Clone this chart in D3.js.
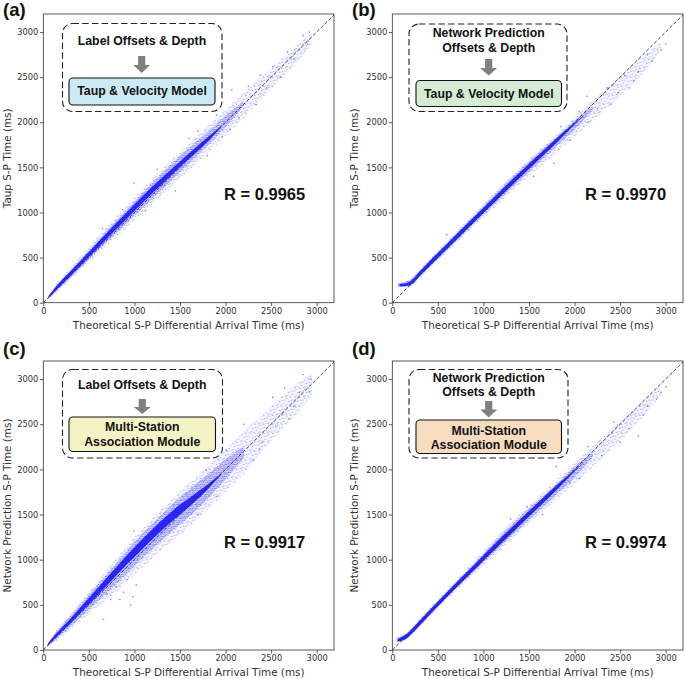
<!DOCTYPE html>
<html>
<head>
<meta charset="utf-8">
<script src="https://cdn.jsdelivr.net/npm/d3@7"></script>
<style>
  body { margin: 0; background: #fff; }
  text { font-family: "DejaVu Sans", sans-serif; }
  .bold { font-family: "Liberation Sans", Arial, sans-serif; font-weight: bold; }
</style>
</head>
<body>
<div id="chart"></div>
<script>
// ---- values (ms) ----
var ticks = [0, 500, 1000, 1500, 2000, 2500, 3000];
var rValues = ["R = 0.9965", "R = 0.9970", "R = 0.9917", "R = 0.9974"];
var panelTags = ["(a)", "(b)", "(c)", "(d)"];
var yTitles = ["Taup S-P Time (ms)", "Taup S-P Time (ms)",
  "Network Prediction S-P Time (ms)", "Network Prediction S-P Time (ms)"];
var xTitle = "Theoretical S-P Differential Arrival Time (ms)";
var inputLines = [["Label Offsets & Depth"], ["Network Prediction", "Offsets & Depth"],
  ["Label Offsets & Depth"], ["Network Prediction", "Offsets & Depth"]];
var moduleLines = [["Taup & Velocity Model"], ["Taup & Velocity Model"],
  ["Multi-Station", "Association Module"], ["Multi-Station", "Association Module"]];

// panel (a): sparse envelope, medium band and dense core of the cloud
var aX     = [50, 150, 300, 450, 600, 750, 900, 1050, 1200, 1350, 1500, 1650, 1800, 2000, 2200, 2400, 2600, 2800, 2950];
var aLo    = [30, 110, 250, 400, 540, 680, 820, 960, 1100, 1240, 1380, 1510, 1650, 1850, 2050, 2260, 2470, 2680, 2870];
var aHi    = [80, 220, 390, 560, 730, 900, 1060, 1220, 1380, 1530, 1670, 1810, 1950, 2140, 2330, 2510, 2690, 2870, 2990];
var aMidX  = [50, 150, 300, 450, 600, 750, 900, 1050, 1200, 1350, 1500, 1650, 1800, 2000, 2200];
var aMidLo = [40, 135, 280, 430, 575, 720, 865, 1010, 1155, 1300, 1445, 1590, 1740, 1945, 2180];
var aMidHi = [70, 200, 360, 525, 690, 855, 1015, 1175, 1335, 1485, 1630, 1760, 1890, 2075, 2230];
var aCoreX  = [60, 150, 300, 450, 600, 750, 900, 1050, 1200, 1350, 1500, 1650, 1800, 1950];
var aCoreLo = [55, 150, 300, 455, 610, 765, 915, 1065, 1215, 1360, 1505, 1640, 1780, 1945];
var aCoreHi = [75, 190, 350, 510, 670, 830, 985, 1140, 1290, 1430, 1565, 1700, 1830, 1955];
var aOut = [[996,1326],[2069,2359],[2336,2194],[1964,1840],[1800,1630],[1700,1900],[1450,1240],
  [1600,1820],[2150,2050],[2250,2400],[2450,2380],[2520,2620],[2600,2500],[2680,2780],[2750,2700],
  [2850,2960],[2900,2870],[2920,3000],[1250,1480],[1120,1020],[870,1030],[650,820],[1900,2080],
  [2050,1920],[2380,2520]];

// panel (b)
var bX     = [60, 120, 200, 300, 450, 600, 750, 900, 1050, 1200, 1350, 1500, 1650, 1800, 2000, 2200, 2400, 2600, 2800, 2950];
var bLo    = [170, 170, 175, 270, 420, 560, 700, 850, 990, 1130, 1270, 1400, 1530, 1660, 1840, 2020, 2200, 2390, 2600, 2800];
var bHi    = [220, 235, 265, 370, 530, 680, 840, 990, 1150, 1300, 1450, 1590, 1730, 1860, 2050, 2240, 2420, 2600, 2780, 2890];
var bMidX  = [60, 120, 200, 300, 450, 600, 750, 900, 1050, 1200, 1350, 1500, 1650, 1800, 2000, 2200];
var bMidLo = [175, 175, 185, 285, 435, 580, 725, 875, 1020, 1165, 1310, 1450, 1590, 1735, 1920, 2140];
var bMidHi = [215, 225, 258, 355, 515, 665, 820, 970, 1125, 1275, 1425, 1565, 1705, 1835, 2015, 2180];
var bCoreX  = [80, 150, 220, 300, 450, 600, 750, 900, 1050, 1200, 1350, 1500, 1650, 1800, 1950, 2100];
var bCoreLo = [183, 185, 210, 295, 448, 598, 748, 898, 1043, 1192, 1338, 1482, 1625, 1770, 1925, 2070];
var bCoreHi = [207, 215, 255, 345, 502, 652, 802, 952, 1102, 1252, 1398, 1540, 1680, 1820, 1950, 2075];
var bOut = [[3000,2870],[2358,2381],[2651,2456],[2138,2289],[1771,1548],[2950,2800],[2850,2680],
  [2700,2560],[2550,2520],[2480,2330],[2250,2150],[2050,2120],[1950,1800],[1650,1680],[1550,1400],
  [2800,2750],[2600,2380],[2400,2200],[1850,1950],[598,752],[2150,2000]];

// panel (c)
var cX     = [40, 150, 300, 450, 600, 750, 900, 1050, 1200, 1350, 1500, 1650, 1800, 2000, 2200, 2400, 2600, 2800, 2950];
var cLo    = [30, 100, 230, 360, 480, 600, 740, 880, 1020, 1150, 1280, 1410, 1550, 1750, 1950, 2200, 2420, 2640, 2820];
var cHi    = [60, 230, 400, 580, 770, 950, 1130, 1300, 1460, 1610, 1750, 1890, 2030, 2220, 2420, 2600, 2790, 2960, 3060];
var cMidX  = [40, 150, 300, 450, 600, 750, 900, 1050, 1200, 1350, 1500, 1650, 1800, 2000, 2200];
var cMidLo = [38, 125, 260, 400, 540, 680, 830, 980, 1120, 1260, 1390, 1520, 1670, 1890, 2130];
var cMidHi = [55, 210, 380, 550, 730, 900, 1080, 1250, 1400, 1550, 1690, 1820, 1940, 2110, 2260];
var cCoreX  = [50, 150, 300, 450, 600, 750, 900, 1050, 1200, 1350, 1500, 1650, 1800, 1950];
var cCoreLo = [50, 150, 300, 455, 610, 770, 930, 1080, 1230, 1370, 1500, 1630, 1775, 1940];
var cCoreHi = [70, 190, 350, 520, 690, 860, 1030, 1190, 1340, 1480, 1610, 1720, 1830, 1955];
var cOut = [[957,498],[657,340],[985,590],[880,640],[800,700],[740,560],[1020,720],[920,780],[840,560],
  [700,620],[996,1317],[2518,2797],[2628,2613],[2372,2225],[2810,2852],[2938,2999],[2920,2856],
  [2007,2210],[1788,1989],[1569,1730],[2700,2560],[2850,3050],[2550,2480],[2200,2500],[2300,2100],
  [1900,1700],[2650,2900],[2400,2300],[2750,2700],[1700,1500]];

// panel (d)
var dX     = [50, 150, 300, 450, 600, 750, 900, 1050, 1200, 1350, 1500, 1650, 1800, 2000, 2200, 2400, 2600, 2800, 2950];
var dLo    = [80, 110, 250, 410, 560, 700, 840, 980, 1120, 1260, 1400, 1530, 1660, 1840, 2030, 2220, 2420, 2640, 2830];
var dHi    = [140, 190, 350, 510, 670, 830, 990, 1150, 1310, 1460, 1600, 1740, 1880, 2070, 2260, 2440, 2620, 2800, 2930];
var dMidX  = [50, 150, 300, 450, 600, 750, 900, 1050, 1200, 1350, 1500, 1650, 1800, 2000, 2200];
var dMidLo = [90, 120, 265, 425, 580, 725, 870, 1015, 1160, 1300, 1440, 1580, 1720, 1910, 2140];
var dMidHi = [130, 180, 335, 495, 650, 805, 960, 1120, 1280, 1425, 1570, 1700, 1835, 2030, 2190];
var dCoreX  = [60, 150, 300, 450, 600, 750, 900, 1050, 1200, 1350, 1500, 1650, 1800, 1950, 2100];
var dCoreLo = [92, 125, 272, 432, 588, 738, 888, 1037, 1185, 1332, 1477, 1622, 1768, 1925, 2075];
var dCoreHi = [125, 172, 325, 485, 640, 795, 945, 1100, 1250, 1395, 1540, 1680, 1822, 1950, 2080];
var dOut = [[2699,2373],[3000,2915],[1800,2030],[1478,1587],[2431,2520],[2900,2780],[2800,2700],
  [2600,2450],[2500,2300],[2300,2150],[2150,2250],[1950,1850],[1650,1500],[2050,1900],[2750,2600],
  [2950,2850],[1300,1450]];

var boxColors = ["#cde9f5", "#d5ecd4", "#f5f2c6", "#f8dcc0"];

// ---- layout ----
var W = 685, H = 679;
var svg = d3.select("#chart").append("svg")
  .attr("width", W).attr("height", H);

var panels = [
  { left: 43.3,  top: 14,  bottom: 302.7,
    layers: [[aX, aLo, aHi], [aMidX, aMidLo, aMidHi], [aCoreX, aCoreLo, aCoreHi]], out: aOut,
    box: [62.5, 23.5, 222, 111.5], inner: [69, 78, 215, 105], lines: [45], arrow: [141.7, 56, 65, 73], mod: [95] },
  { left: 392.3, top: 14,  bottom: 302.7,
    layers: [[bX, bLo, bHi], [bMidX, bMidLo, bMidHi], [bCoreX, bCoreLo, bCoreHi]], out: bOut,
    box: [409, 24, 567, 111.5], inner: [416, 80.5, 561.5, 106.5], lines: [37, 51.5], arrow: [488.7, 59, 68, 75.5], mod: [97.5] },
  { left: 43.3,  top: 361, bottom: 650,
    layers: [[cX, cLo, cHi], [cMidX, cMidLo, cMidHi], [cCoreX, cCoreLo, cCoreHi]], out: cOut,
    box: [62.5, 369.5, 222.5, 458], inner: [69, 417, 215.5, 451.5], lines: [388.5], arrow: [142.3, 399, 407, 414], mod: [431, 446] },
  { left: 392.3, top: 361, bottom: 650,
    layers: [[dX, dLo, dHi], [dMidX, dMidLo, dMidHi], [dCoreX, dCoreLo, dCoreHi]], out: dOut,
    box: [409, 369.5, 568, 458], inner: [416, 420, 561.5, 453.5], lines: [382, 396], arrow: [488.7, 401, 409.5, 417.5], mod: [434.5, 448.5] }
];

var plotW = 290.7;

var defs = svg.append("defs");

// speckle texture for the loose part of the cloud
var tile = 9;
var speck = [[0.7,1.2],[4.6,0.5],[7.8,3.1],[2.4,4.4],[6.1,6.3],[0.9,7.6],[3.8,8.2],[8.4,8.6],[5.2,3.4]];
var pat = defs.append("pattern").attr("id", "sparse")
  .attr("patternUnits", "userSpaceOnUse").attr("width", tile).attr("height", tile);
pat.append("rect").attr("width", tile).attr("height", tile).attr("fill", "#0000ff").attr("fill-opacity", 0.04);
pat.selectAll("circle").data(speck).enter().append("circle")
  .attr("cx", function(d) { return d[0]; }).attr("cy", function(d) { return d[1]; })
  .attr("r", 0.6).attr("fill", "#2a2aff").attr("fill-opacity", 0.45);

// denser speckle for the medium band
var pat2 = defs.append("pattern").attr("id", "medium")
  .attr("patternUnits", "userSpaceOnUse").attr("width", 4).attr("height", 4);
pat2.append("rect").attr("width", 4).attr("height", 4).attr("fill", "#0000ff").attr("fill-opacity", 0.12);
[[0.8,0.9],[2.9,1.6],[1.6,3.2],[3.5,3.6]].forEach(function(d) {
  pat2.append("circle").attr("cx", d[0]).attr("cy", d[1]).attr("r", 0.6)
    .attr("fill", "#1a1aff").attr("fill-opacity", 0.55);
});

defs.append("filter").attr("id", "soft").attr("x", "-20%").attr("y", "-20%")
  .attr("width", "140%").attr("height", "140%")
  .append("feGaussianBlur").attr("stdDeviation", 0.7);

var layerStyle = [
  { fill: "url(#sparse)", op: 1, filter: null },
  { fill: "url(#medium)", op: 1, filter: null },
  { fill: "#0c0cf5", op: 0.85, filter: "url(#soft)" }
];

panels.forEach(function(p, i) {
  var h = p.bottom - p.top;
  var x = d3.scaleLinear().domain([0, 3190]).range([0, plotW]);
  var y = d3.scaleLinear().domain([0, 3200]).range([h, 0]);

  var g = svg.append("g").attr("transform", "translate(" + p.left + "," + p.top + ")");

  defs.append("clipPath").attr("id", "clip" + i)
    .append("rect").attr("width", plotW).attr("height", h);

  var plot = g.append("g").attr("clip-path", "url(#clip" + i + ")");

  var area = d3.area().curve(d3.curveCatmullRom)
    .x(function(d) { return x(d[0]); })
    .y0(function(d) { return y(d[1]); })
    .y1(function(d) { return y(d[2]); });

  p.layers.forEach(function(L, k) {
    var rows = L[0].map(function(v, j) { return [v, L[1][j], L[2][j]]; });
    plot.append("path").datum(rows)
      .attr("fill", layerStyle[k].fill)
      .attr("fill-opacity", layerStyle[k].op)
      .attr("filter", layerStyle[k].filter)
      .attr("d", area);
  });

  // scattered single points
  plot.selectAll("circle.pt").data(p.out).enter().append("circle")
    .attr("class", "pt")
    .attr("cx", function(d) { return x(d[0]); })
    .attr("cy", function(d) { return y(d[1]); })
    .attr("r", 0.8)
    .attr("fill", "#2020ff").attr("fill-opacity", 0.6);

  // y = x reference
  plot.append("line")
    .attr("x1", x(0)).attr("y1", y(0)).attr("x2", x(3200)).attr("y2", y(3200))
    .attr("stroke", "#333").attr("stroke-width", 0.9)
    .attr("stroke-dasharray", "3.5,2");

  // axes
  var fmt = d3.format("d");
  var xa = g.append("g").attr("transform", "translate(0," + h + ")")
    .call(d3.axisBottom(x).tickValues(ticks).tickFormat(fmt).tickSize(3.5).tickPadding(1.5));
  var ya = g.append("g")
    .call(d3.axisLeft(y).tickValues(ticks).tickFormat(fmt).tickSize(3.5).tickPadding(1.5));
  [xa, ya].forEach(function(a) {
    a.select(".domain").remove();
    a.selectAll("line").attr("stroke", "#333").attr("stroke-width", 0.8);
    a.selectAll("text").attr("font-family", "DejaVu Sans").attr("font-size", 8.3).attr("fill", "#333");
  });

  g.append("rect").attr("width", plotW).attr("height", h)
    .attr("fill", "none").attr("stroke", "#333").attr("stroke-width", 0.8);

  g.append("text")
    .attr("x", plotW / 2).attr("y", h + 26)
    .attr("text-anchor", "middle").attr("font-size", 10.4).attr("fill", "#333")
    .text(xTitle);

  g.append("text")
    .attr("transform", "translate(" + (i % 2 === 0 ? -36.5 : -38) + "," + (h / 2) + ") rotate(-90)")
    .attr("text-anchor", "middle").attr("dominant-baseline", "central")
    .attr("font-size", 10.4).attr("fill", "#333")
    .text(yTitles[i]);

  // R value
  svg.append("text").attr("class", "bold")
    .attr("x", i % 2 === 0 ? 224 : 585).attr("y", i < 2 ? 200 : 548)
    .attr("font-size", 16.5).attr("fill", "#111")
    .text(rValues[i]);

  // panel tag
  svg.append("text").attr("class", "bold")
    .attr("x", i % 2 === 0 ? 3 : 352).attr("y", i < 2 ? 15.5 : 355)
    .attr("font-size", 18.5).attr("fill", "#111")
    .text(panelTags[i]);

  // flow box
  var b = p.box, n = p.inner, cxm = (n[0] + n[2]) / 2;
  svg.append("rect")
    .attr("x", b[0]).attr("y", b[1]).attr("width", b[2] - b[0]).attr("height", b[3] - b[1])
    .attr("rx", 10).attr("fill", "#fff").attr("stroke", "#222").attr("stroke-width", 1.1)
    .attr("stroke-dasharray", "6.5,3.2");
  inputLines[i].forEach(function(t, k) {
    svg.append("text").attr("class", "bold")
      .attr("x", cxm).attr("y", p.lines[k]).attr("text-anchor", "middle")
      .attr("font-size", 12.3).attr("fill", "#111").text(t);
  });
  var a = p.arrow;
  svg.append("path")
    .attr("d", "M" + (a[0] - 3.6) + "," + a[1] + "H" + (a[0] + 3.6) + "V" + a[2] +
      "H" + (a[0] + 8.5) + "L" + a[0] + "," + a[3] + "L" + (a[0] - 8.5) + "," + a[2] +
      "H" + (a[0] - 3.6) + "Z")
    .attr("fill", "#808080");
  svg.append("rect")
    .attr("x", n[0]).attr("y", n[1]).attr("width", n[2] - n[0]).attr("height", n[3] - n[1])
    .attr("rx", 4).attr("fill", boxColors[i]).attr("stroke", "#111").attr("stroke-width", 1.1);
  moduleLines[i].forEach(function(t, k) {
    svg.append("text").attr("class", "bold")
      .attr("x", cxm).attr("y", p.mod[k]).attr("text-anchor", "middle")
      .attr("font-size", 12.3).attr("fill", "#111").text(t);
  });
});
</script>
</body>
</html>
